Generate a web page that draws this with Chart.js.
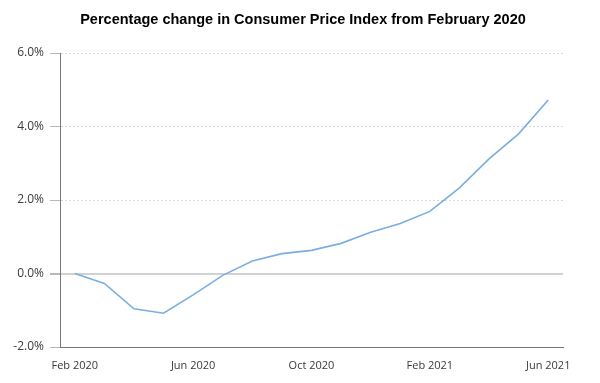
<!DOCTYPE html>
<html>
<head>
<meta charset="utf-8">
<script src="https://cdn.jsdelivr.net/npm/chart.js@4/dist/chart.umd.min.js"></script>
<style>
body{margin:0;background:#fff}
#wrap{width:600px;height:383px}
</style>
</head>
<body>
<div id="wrap"><canvas id="cpiChart" width="600" height="383"></canvas></div>
<script>

let months = ["Feb 2020","Mar 2020","Apr 2020","May 2020","Jun 2020","Jul 2020","Aug 2020","Sep 2020","Oct 2020","Nov 2020","Dec 2020","Jan 2021","Feb 2021","Mar 2021","Apr 2021","May 2021","Jun 2021"]
let cpiChange = [0, -0.27, -0.96, -1.08, -0.58, -0.05, 0.34, 0.54, 0.63, 0.82, 1.12, 1.36, 1.69, 2.33, 3.12, 3.8, 4.72]
let shownMonths = ["Feb 2020","Jun 2020","Oct 2020","Feb 2021","Jun 2021"]
let titleText = "Percentage change in Consumer Price Index from February 2020"

// title is not centred over the plot in the original, so draw it ourselves
let titlePlugin = {
id:"pageTitle",
afterDraw:function(chart){
let c = chart.ctx
c.save()
c.font = "bold 14.5px 'Liberation Sans', Arial, sans-serif"
c.fillStyle = "#000"
c.textAlign = "center"
c.textBaseline = "middle"
c.fillText(titleText, 303, 19.5)
c.restore()
}
}

let ctx = document.getElementById("cpiChart")

new Chart(ctx,{
type:"line",
data:{
labels:months,
datasets:[{
data:cpiChange,
borderColor:"#7aaee0",
borderWidth:1.6,
pointRadius:0,
tension:0,
fill:false
}]
},
plugins:[titlePlugin],
options:{
responsive:false,
animation:false,
layout:{padding:{left:10,right:37,top:53,bottom:0}},
plugins:{
legend:{display:false},
tooltip:{enabled:false},
title:{display:false}
},
scales:{
x:{
offset:true,
grid:{display:false},
border:{display:true,color:"#777",width:1},
ticks:{
autoSkip:false,
maxRotation:0,
color:"#3a3a3a",
font:{family:"'Open Sans', sans-serif", size:11},
padding:4,
callback:function(v,i){
let m = months[i]
return shownMonths.includes(m) ? m : ""
}
},
afterFit:function(s){ s.height = 36 }
},
y:{
min:-2,
max:6,
ticks:{
stepSize:2,
color:"#3a3a3a",
font:{family:"'Open Sans', sans-serif", size:12},
padding:6,
callback:function(v){ return v.toFixed(1)+"%" }
},
grid:{
color:function(c){
if(c.tick.value==0) return "#d2d2d2"
if(c.tick.value==-2) return "rgba(0,0,0,0)"
return "#d8d8d8"
},
lineWidth:function(c){ return c.tick.value==0 ? 2 : 1 },
tickColor:"#b8b8b8",
tickLength:10,
tickBorderDash:[]
},
border:{
display:true,
color:"#777",
width:1,
dash:function(c){
if(c.tick && c.tick.value!=0) return [2,2]
return []
}
},
afterFit:function(s){ s.width = 50 }
}
}
}
})

</script>
</body>
</html>
